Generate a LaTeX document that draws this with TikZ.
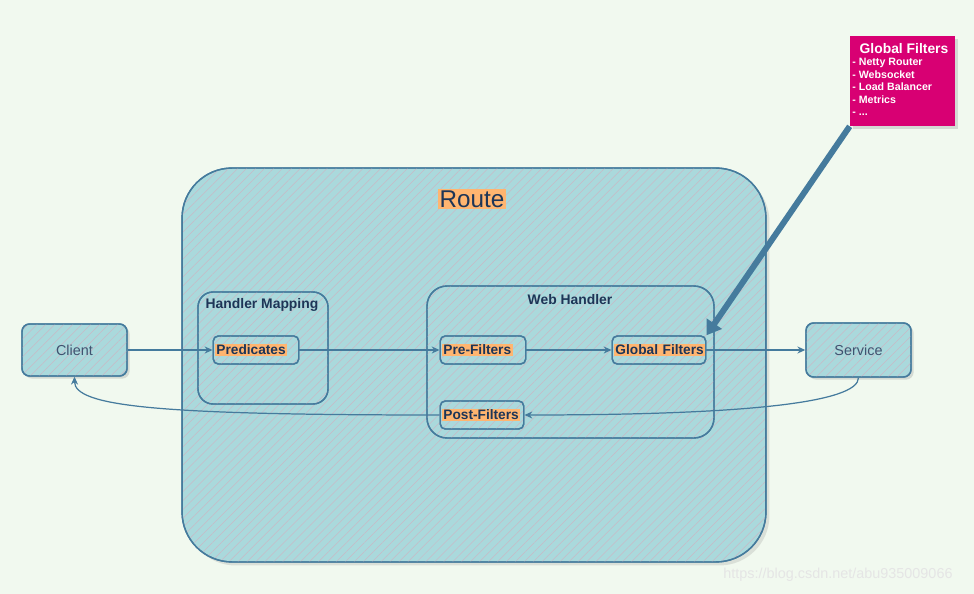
\documentclass[tikz,border=0pt]{standalone}
\usepackage{fontspec}
\setmainfont{Liberation Sans}
\usetikzlibrary{arrows.meta, patterns.meta, shadows}
\definecolor{bgcol}{HTML}{F1F9EF}
\definecolor{boxfill}{HTML}{AAD9DC}
\definecolor{hatchcol}{HTML}{C9B9C6}
\definecolor{edgecol}{HTML}{457B9D}
\definecolor{inkcol}{HTML}{1D3557}
\definecolor{hlcol}{HTML}{FFB570}
\definecolor{pinkcol}{HTML}{D80073}
\newcommand{\hl}[1]{{\setlength{\fboxsep}{0.8pt}\colorbox{hlcol}{#1}}}

\begin{document}
\begin{tikzpicture}[x=0.02cm, y=-0.02cm,
	sketchbox/.style={shape=rectangle, draw=edgecol, line width=0.8pt, fill=boxfill,
		postaction={pattern={Lines[angle=45, distance=3.6pt, line width=0.3pt]}, pattern color=hatchcol},
		postaction={draw=edgecol, line width=0.8pt}},
	endbox/.style={sketchbox, rounded corners=0.15cm, minimum width=2.1cm, minimum height=1.04cm,
		text=inkcol!85, font=\fontsize{8.2}{9}\selectfont,
		drop shadow={opacity=0.25, shadow xshift=1.5pt, shadow yshift=-1.5pt}},
	groupbox/.style={sketchbox, rounded corners=0.3cm},
	stagebox/.style={sketchbox, rounded corners=0.1cm, minimum height=0.56cm, inner sep=1pt,
		align=left, text=inkcol, font=\bfseries\fontsize{7.8}{8.5}\selectfont},
	grouptitle/.style={text=inkcol, font=\bfseries\fontsize{7.9}{8.5}\selectfont},
	flow/.style={draw=edgecol, line width=0.7pt, -{Stealth[length=4.5pt, width=4pt]}},
]
	% Background and frame:
	\fill[bgcol] (0,0) rectangle (974,594);
	\useasboundingbox (0,0) rectangle (974,594);

	% Route container
	\node[sketchbox, rounded corners=1cm, minimum width=11.68cm, minimum height=7.88cm,
		drop shadow={opacity=0.2, shadow xshift=2pt, shadow yshift=-2pt}] (route) at (474, 365){};
	\node[fill=hlcol, inner sep=1pt, text=inkcol, font=\fontsize{13.8}{15}\selectfont] (routetitle) at (472, 199){Route};

	% Handler mapping group
	\node[groupbox, minimum width=2.6cm, minimum height=2.24cm] (hmap) at (263, 348){};
	\node[grouptitle] (hmaptitle) at (262, 305){Handler Mapping};
	\node[stagebox, text width=1.64cm] (pred) at (256, 350){\hl{Predicates}};

	% Web handler group
	\node[groupbox, rounded corners=0.4cm, minimum width=5.74cm, minimum height=3.04cm] (web) at (570.5, 362){};
	\node[grouptitle] (webtitle) at (570, 300){Web Handler};
	\node[stagebox, text width=1.64cm] (pre) at (483, 350){\hl{Pre-Filters}};
	\node[stagebox, text width=1.8cm] (glob) at (659, 350){\hl{Global Filters}};
	\node[stagebox, text width=1.6cm] (post) at (482, 415){\hl{Post-Filters}};

	% Client and service
	\node[endbox] (client) at (74.5, 350){Client};
	\node[endbox, minimum height=1.08cm] (service) at (858.5, 350){Service};

	% Global filters note
	\node[shape=rectangle, fill=pinkcol, minimum width=2.1cm, minimum height=1.8cm,
		drop shadow={opacity=0.25, shadow xshift=1.5pt, shadow yshift=-1.5pt}] (gpanel) at (902.5, 81){};
	\node[text=white, font=\bfseries\fontsize{7.9}{8.5}\selectfont] (gtitle) at (904, 49){Global Filters};
	\node[anchor=north west, inner sep=0pt, align=left, text=white,
		font=\bfseries\fontsize{6.05}{7.1}\selectfont] (glist) at (852, 58){- Netty Router\\- Websocket\\- Load Balancer\\- Metrics\\- ...};

	% Request and response flow
	\draw[flow] (client.east) -- (pred.west);
	\draw[flow] (pred.east) -- (pre.west);
	\draw[flow] (pre.east) -- (glob.west);
	\draw[flow] (glob.east) -- (service.west);
	\draw[flow] (service.south) .. controls +(0, 25) and +(220, 0) .. (post.east);
	\draw[flow] (post.west) .. controls +(-280, 0) and +(0, 30) .. (client.south);

	% Pointer from note
	\draw[draw=edgecol, line width=3.4pt, -{Triangle[length=8pt, width=10pt]}] (gpanel.south west) -- (glob.north east);

	% Watermark
	\node[text=gray!20, font=\fontsize{8.2}{9}\selectfont] (mark) at (838, 575){https://blog.csdn.net/abu935009066};
\end{tikzpicture}
\end{document}
